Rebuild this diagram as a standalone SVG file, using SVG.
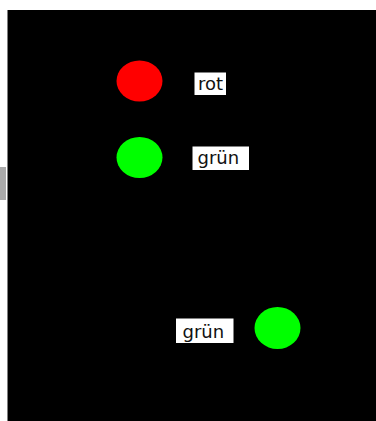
<svg xmlns="http://www.w3.org/2000/svg" width="376" height="421" viewBox="0 0 376 421">
<style>
.lbl{fill:#fff}
.t{font-family:"DejaVu Sans",sans-serif;font-size:18px;fill:#111}
</style>
<rect x="0" y="0" width="376" height="421" fill="#fff"/>
<rect x="0" y="167" width="6" height="33" fill="#aaa"/>
<rect x="7.5" y="10" width="368.5" height="411" fill="#000"/>
<g id="node-rot">
<ellipse cx="139.5" cy="81" rx="23" ry="20.5" fill="#ff0000"/>
<rect class="lbl" x="194.5" y="72.5" width="31.5" height="22.5"/>
<text class="t" x="198" y="89.5">rot</text>
</g>
<g id="node-gruen1">
<ellipse cx="139.5" cy="157.5" rx="23" ry="20.5" fill="#00ff00"/>
<rect class="lbl" x="192.5" y="146.5" width="56.5" height="23.5"/>
<text class="t" x="197.5" y="163.5">grün</text>
</g>
<g id="node-gruen2">
<ellipse cx="277.5" cy="328" rx="23" ry="21" fill="#00ff00"/>
<rect class="lbl" x="176" y="318.5" width="57.5" height="24.5"/>
<text class="t" x="182.5" y="338">grün</text>
</g>
<g id="connectors"/>
</svg>
